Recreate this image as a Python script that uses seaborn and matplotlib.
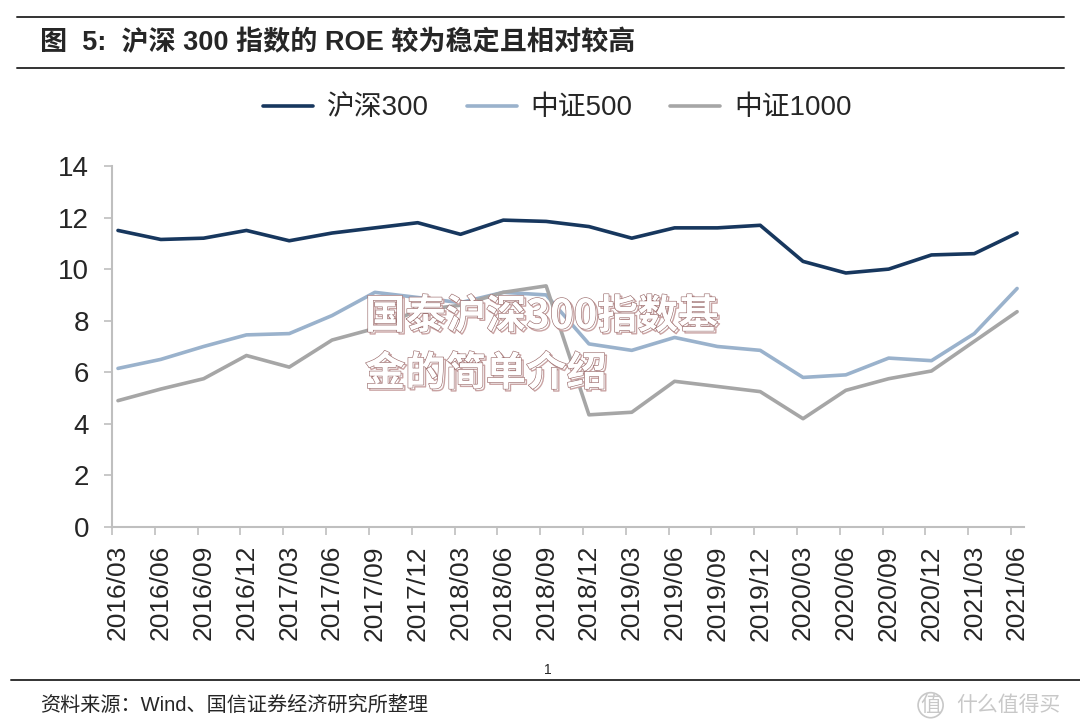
import pandas as pd
import matplotlib
matplotlib.use("Agg")
import matplotlib.pyplot as plt
import matplotlib.patheffects as pe
import seaborn as sns

# chart data
quarters = ["2016/03", "2016/06", "2016/09", "2016/12", "2017/03", "2017/06",
            "2017/09", "2017/12", "2018/03", "2018/06", "2018/09", "2018/12",
            "2019/03", "2019/06", "2019/09", "2019/12", "2020/03", "2020/06",
            "2020/09", "2020/12", "2021/03", "2021/06"]
hs300 = [11.5, 11.15, 11.2, 11.5, 11.1, 11.4, 11.6, 11.8, 11.35, 11.9, 11.85,
         11.65, 11.2, 11.6, 11.6, 11.7, 10.3, 9.85, 10.0, 10.55, 10.6, 11.4]
zz500 = [6.15, 6.5, 7.0, 7.45, 7.5, 8.2, 9.1, 8.9, 8.7, 9.1, 9.0,
         7.1, 6.85, 7.35, 7.0, 6.85, 5.8, 5.9, 6.55, 6.45, 7.5, 9.25]
zz1000 = [4.9, 5.35, 5.75, 6.65, 6.2, 7.25, 7.7, 8.4, 8.6, 9.1, 9.35,
          4.35, 4.45, 5.65, 5.45, 5.25, 4.2, 5.3, 5.75, 6.05, 7.2, 8.35]
series_names = ["沪深300", "中证500", "中证1000"]
colors = ["#17375e", "#9ab2cc", "#a6a6a6"]

title = "图  5:  沪深 300 指数的 ROE 较为稳定且相对较高"
source = "资料来源：Wind、国信证券经济研究所整理"
watermark = "国泰沪深300指数基\n金的简单介绍"

# long table for seaborn
rows = []
for name, vals in zip(series_names, [hs300, zz500, zz1000]):
    for i, v in enumerate(vals):
        rows.append({"pos": i, "quarter": quarters[i], "series": name, "roe": v})
df = pd.DataFrame(rows)

sns.set_style("white")
plt.rcParams["font.family"] = ["Liberation Sans", "Noto Sans CJK SC"]

fig = plt.figure(figsize=(10.8, 7.27), dpi=100)
ax = fig.add_axes([0.1037, 0.2751, 0.8444, 0.4966])

sns.lineplot(data=df, x="pos", y="roe", hue="series", hue_order=series_names,
             palette=colors, linewidth=2.6, sort=False, ax=ax, legend=True)

ax.set_xlim(-0.14, 21.16)
ax.set_ylim(0, 14)
ax.set_yticks(range(0, 15, 2))
ax.set_xticks(range(len(quarters)))
ax.set_xticklabels(quarters, rotation=90, fontsize=19)
ax.set_xticks([i - 0.14 for i in range(len(quarters))], minor=True)
ax.tick_params(axis="x", which="major", length=0, pad=13)
ax.tick_params(axis="x", which="minor", length=6, width=1.2, color="#bfbfbf",
               direction="out", bottom=True)
ax.tick_params(axis="y", length=5.5, width=1.2, color="#bfbfbf", pad=11,
               labelsize=20, left=True)
ax.set_xlabel("")
ax.set_ylabel("")
for s in ["top", "right"]:
    ax.spines[s].set_visible(False)
for s in ["left", "bottom"]:
    ax.spines[s].set_color("#bfbfbf")
    ax.spines[s].set_linewidth(1.5)

handles, labels = ax.get_legend_handles_labels()
ax.legend(handles, labels, loc="center", bbox_to_anchor=(0.516, 0.851),
          bbox_transform=fig.transFigure, ncol=3, frameon=False, fontsize=20,
          handlelength=1.8, handletextpad=0.5, columnspacing=1.35)

# title block with rules
fig.add_artist(plt.Line2D([0.016, 0.985], [0.977, 0.977], color="#333333", lw=1.4))
fig.add_artist(plt.Line2D([0.016, 0.985], [0.906, 0.906], color="#333333", lw=1.4))
fig.text(0.037, 0.941, title, fontsize=19.5, fontweight="bold", va="center", ha="left")

# watermark: white letters with a rosy outline and offset shadow
wm = fig.text(0.338, 0.525, watermark, fontsize=29, fontweight="heavy", color="white",
              ha="left", va="center", linespacing=1.5, zorder=10,
              family=["Noto Sans CJK SC"])
wm.set_path_effects([pe.Stroke(linewidth=1.0, foreground="#c9a3a3", offset=(1.5, -1.5)),
                     pe.Stroke(linewidth=0.9, foreground="#9c6e6e"), pe.Normal()])

# footer
fig.text(0.507, 0.078, "1", fontsize=10, ha="center", va="center")
fig.add_artist(plt.Line2D([0.01, 1.0], [0.064, 0.064], color="#333333", lw=1.4))
fig.text(0.037, 0.030, source, fontsize=14.5, ha="left", va="center")
fig.text(0.852, 0.030, "值", fontsize=15, ha="left", va="center", color="#c8c8c8",
         bbox=dict(boxstyle="circle,pad=0.1", fc="none", ec="#c8c8c8", lw=1.2))
fig.text(0.885, 0.030, "什么值得买", fontsize=15, ha="left", va="center", color="#c8c8c8")

fig.savefig("out.png", dpi=100)
